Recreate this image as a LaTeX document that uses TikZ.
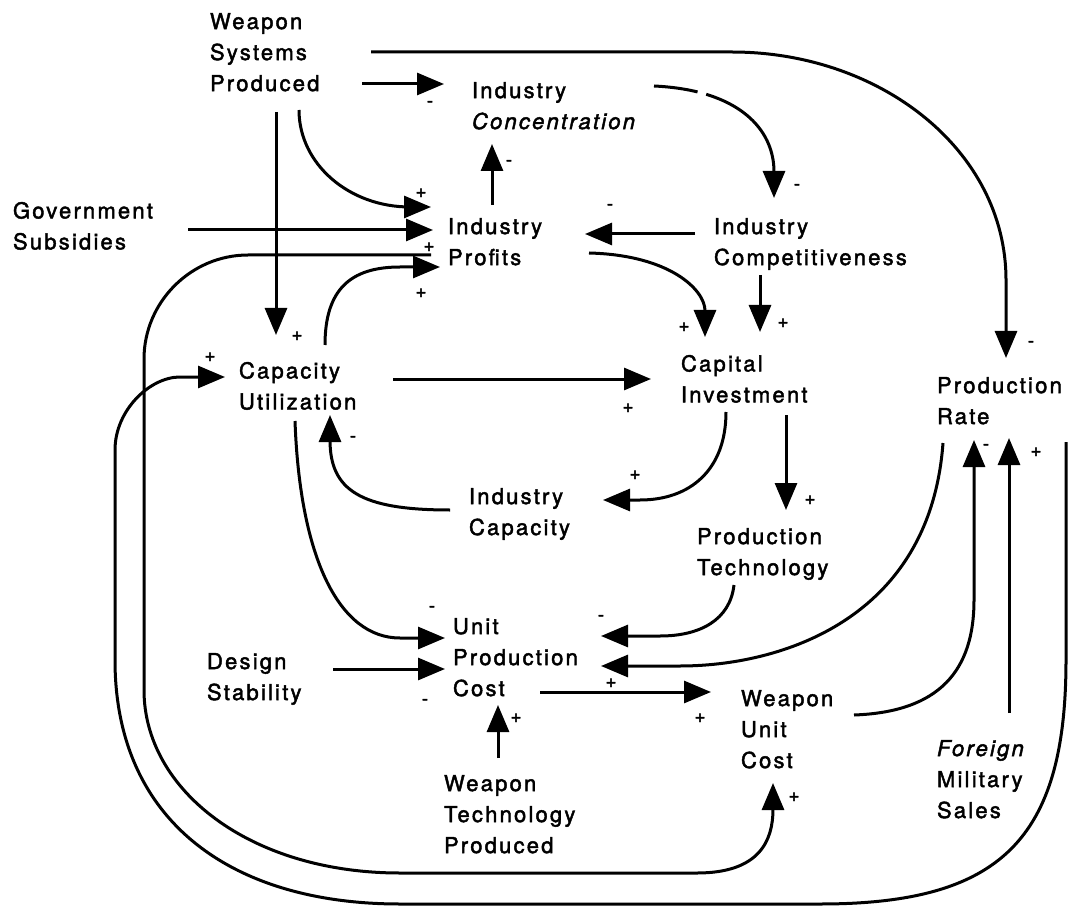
\documentclass[tikz,border=0pt]{standalone}
\usepackage{fontspec}
\setmainfont{TeX Gyre Heros}[LetterSpace=10, FakeBold=2]
\usetikzlibrary{arrows.meta}
\begin{document}
\begin{tikzpicture}[x=1pt,y=-1pt,
  var/.style={anchor=north west, inner sep=0pt, outer sep=0pt, align=left, font=\fontsize{22}{31}\selectfont},
  link/.style={line width=3pt, -{Triangle[length=27pt,width=22pt]}},
  pol/.style={font=\fontsize{19}{19}\selectfont, inner sep=0pt}]
\useasboundingbox (0,0) rectangle (1071,909);

% variables
\node[var] (wsp) at (210,13) {Weapon\\Systems\\Produced};
\node[var] (ic) at (472,82) {Industry\\\textit{Concentration}};
\node[var] (gs) at (13,202) {Government\\Subsidies};
\node[var] (ip) at (448,218) {Industry\\Profits};
\node[var] (icomp) at (714,218) {Industry\\Competitiveness};
\node[var] (cu) at (239,362) {Capacity\\Utilization};
\node[var] (ci) at (681,355) {Capital\\Investment};
\node[var] (pr) at (937,377) {Production\\Rate};
\node[var] (indcap) at (469,488) {Industry\\Capacity};
\node[var] (pt) at (697,528) {Production\\Technology};
\node[var] (upc) at (453,618) {Unit\\Production\\Cost};
\node[var] (ds) at (207,653) {Design\\Stability};
\node[var] (wuc) at (741,690) {Weapon\\Unit\\Cost};
\node[var] (fms) at (937,740) {\textit{Foreign}\\Military\\Sales};
\node[var] (wtp) at (444,775) {Weapon\\Technology\\Produced};

% links
\draw[link] ([shift={(152,71)}]wsp.north west) -- ([shift={(-28,2)}]ic.north west);
\draw[link] ([shift={(161,39)}]wsp.north west) -- (732,52) .. controls (880,52) and (1006,150) .. (1006,280) -- ([shift={(69,-19)}]pr.north west);
\draw[link] ([shift={(66,99)}]wsp.north west) -- ([shift={(37,-27)}]cu.north west);
\draw[link] ([shift={(89,97)}]wsp.north west) .. controls (299,164) and (349,207) .. (410,207) -- ([shift={(-17,-11)}]ip.north west);
\draw[link] ([shift={(175,28)}]gs.north west) -- ([shift={(-15,12)}]ip.north west);
\draw[link] ([shift={(-17,37)}]ip.north west) -- (248,255) .. controls (191,255) and (144,302) .. (144,359) -- (144,690) .. controls (144,790) and (250,873) .. (400,873) -- (697,873) .. controls (760,873) and (773,840) .. ([shift={(32,93)}]wuc.north west);
\draw[link] ([shift={(86,-17)}]cu.north west) .. controls (325,290) and (350,267) .. (400,267) -- ([shift={(-8,49)}]ip.north west);
\draw[link] ([shift={(129,65)}]pr.north west) -- (1066,660) .. controls (1066,840) and (1000,904) .. (820,904) -- (400,904) .. controls (230,904) and (115,820) .. (115,660) -- (115,450) .. controls (115,410) and (150,377) .. (180,377) -- ([shift={(-14,15)}]cu.north west);
\draw[link, dash pattern=on 44pt off 9pt on 600pt] ([shift={(182,4)}]ic.north west) .. controls (740,90) and (774,130) .. ([shift={(60,-20)}]icomp.north west);
\draw[link] ([shift={(44,-13)}]ip.north west) -- ([shift={(20,62)}]ic.north west);
\draw[link] ([shift={(-19,16)}]icomp.north west) -- ([shift={(137,16)}]ip.north west);
\draw[link] ([shift={(141,35)}]ip.north west) .. controls (670,255) and (705,290) .. ([shift={(24,-18)}]ci.north west);
\draw[link] ([shift={(46,57)}]icomp.north west) -- ([shift={(79,-23)}]ci.north west);
\draw[link] ([shift={(154,17)}]cu.north west) -- ([shift={(-30,24)}]ci.north west);
\draw[link] ([shift={(45,57)}]ci.north west) .. controls (726,470) and (690,500) .. (640,500) -- ([shift={(134,12)}]indcap.north west);
\draw[link] ([shift={(105,60)}]ci.north west) -- ([shift={(89,-18)}]pt.north west);
\draw[link] ([shift={(-19,22)}]indcap.north west) .. controls (360,510) and (330,490) .. (330,440) -- ([shift={(91,53)}]cu.north west);
\draw[link] ([shift={(56,59)}]cu.north west) .. controls (300,560) and (340,638) .. (400,638) -- ([shift={(-8,20)}]upc.north west);
\draw[link] ([shift={(126,16)}]ds.north west) -- ([shift={(-8,51)}]upc.north west);
\draw[link] ([shift={(37,57)}]pt.north west) .. controls (730,620) and (700,636) .. (660,636) -- ([shift={(148,18)}]upc.north west);
\draw[link] ([shift={(6,66)}]pr.north west) .. controls (930,620) and (780,666) .. (680,666) -- ([shift={(148,48)}]upc.north west);
\draw[link] ([shift={(87,74)}]upc.north west) -- ([shift={(-30,2)}]wuc.north west);
\draw[link] ([shift={(54,-17)}]wtp.north west) -- ([shift={(45,87)}]upc.north west);
\draw[link] ([shift={(113,25)}]wuc.north west) .. controls (940,712) and (974,670) .. (974,600) -- ([shift={(37,63)}]pr.north west);
\draw[link] ([shift={(72,-27)}]fms.north west) -- ([shift={(72,61)}]pr.north west);

% polarities
\node[pol] (s1) at (430,104) {-};
\node[pol] (s2) at (1031,344) {-};
\node[pol] (s3) at (297,336) {+};
\node[pol] (s4) at (421,193) {+};
\node[pol] (s5) at (429,247) {+};
\node[pol] (s6) at (794,797) {+};
\node[pol] (s7) at (421,293) {+};
\node[pol] (s8) at (210,357) {+};
\node[pol] (s9) at (797,187) {-};
\node[pol] (s10) at (509,163) {-};
\node[pol] (s11) at (610,207) {-};
\node[pol] (s12) at (684,327) {+};
\node[pol] (s13) at (783,323) {+};
\node[pol] (s14) at (628,408) {+};
\node[pol] (s15) at (635,475) {+};
\node[pol] (s16) at (810,500) {+};
\node[pol] (s17) at (353,439) {-};
\node[pol] (s18) at (432,609) {-};
\node[pol] (s19) at (425,702) {-};
\node[pol] (s20) at (601,618) {-};
\node[pol] (s21) at (611,683) {+};
\node[pol] (s22) at (700,718) {+};
\node[pol] (s23) at (516,718) {+};
\node[pol] (s24) at (986,447) {-};
\node[pol] (s25) at (1036,452) {+};
\end{tikzpicture}
\end{document}
